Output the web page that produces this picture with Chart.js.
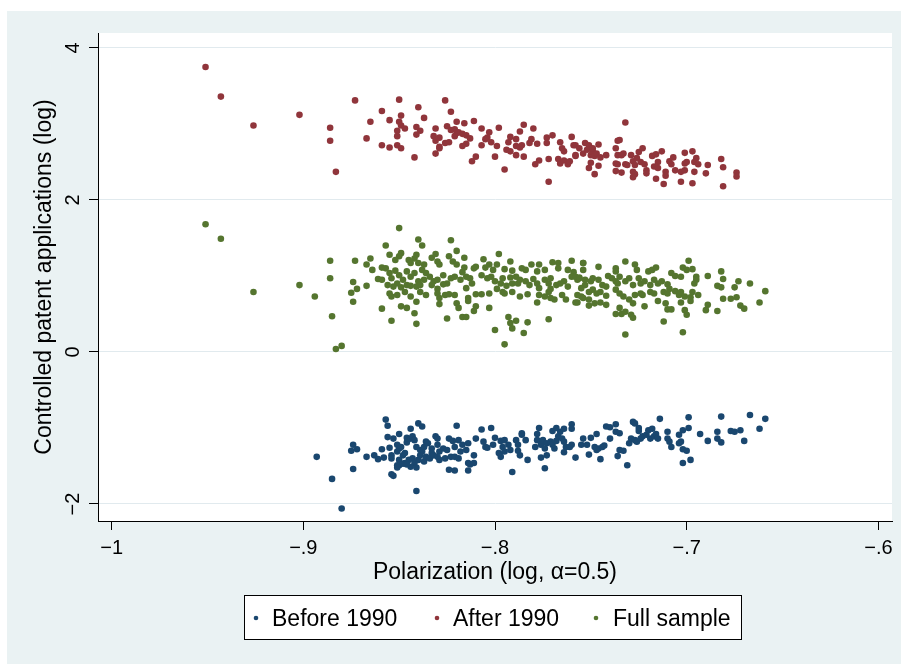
<!DOCTYPE html>
<html>
<head>
<meta charset="utf-8">
<script src="https://cdn.jsdelivr.net/npm/chart.js@4/dist/chart.umd.min.js"></script>
<style>
  body { margin: 0; background: #fff; }
  #wrap { position: relative; width: 901px; height: 664px; }
  canvas { display: block; }
</style>
</head>
<body>
<div id="wrap"><canvas id="chart" width="901" height="664"></canvas></div>
<script>
// axis ticks
const xTicks = [-1, -0.9, -0.8, -0.7, -0.6];
const xTickLabels = ['\u22121', '\u2212.9', '\u2212.8', '\u2212.7', '\u2212.6'];
const yTicks = [-2, 0, 2, 4];
const yTickLabels = ['\u22122', '0', '2', '4'];

const seriesNames = ['Before 1990', 'After 1990', 'Full sample'];

// [polarization, patents]
const before1990 = [
  [-0.893,-1.38],[-0.885,-1.67],[-0.880,-2.06],[-0.874,-1.54],[-0.874,-1.22],[-0.875,-1.30],[-0.872,-1.28],
  [-0.867,-1.38],[-0.863,-1.36],[-0.861,-1.41],[-0.859,-1.28],[-0.858,-1.39],[-0.857,-0.89],[-0.856,-0.97],
  [-0.856,-1.12],[-0.855,-1.26],[-0.854,-1.36],[-0.854,-1.40],[-0.854,-1.61],[-0.853,-1.63],[-0.853,-1.14],
  [-0.850,-1.08],[-0.851,-1.22],[-0.851,-1.31],[-0.850,-1.27],[-0.849,-1.25],[-0.848,-1.36],[-0.847,-1.33],
  [-0.846,-1.19],[-0.844,-1.01],[-0.846,-1.13],[-0.844,-1.14],[-0.843,-1.11],[-0.842,-1.16],[-0.840,-0.94],
  [-0.838,-0.98],[-0.841,-1.25],[-0.839,-1.29],[-0.838,-1.31],[-0.837,-1.25],[-0.836,-1.18],[-0.835,-1.20],
  [-0.833,-1.27],[-0.833,-1.33],[-0.831,-1.11],[-0.830,-1.14],[-0.830,-1.22],[-0.829,-1.31],[-0.827,-1.27],
  [-0.825,-1.29],[-0.824,-1.14],[-0.822,-1.17],[-0.821,-1.25],[-0.820,-0.97],[-0.819,-1.16],[-0.818,-1.31],
  [-0.817,-1.22],[-0.815,-1.29],[-0.814,-1.20],[-0.811,-1.36],[-0.810,-1.14],[-0.807,-1.02],[-0.806,-1.18],
  [-0.805,-1.25],[-0.804,-1.26],[-0.850,-1.42],[-0.847,-1.46],[-0.845,-1.42],[-0.843,-1.40],[-0.842,-1.46],
  [-0.840,-1.42],[-0.839,-1.36],[-0.837,-1.44],[-0.836,-1.38],[-0.834,-1.40],[-0.832,-1.36],[-0.830,-1.38],
  [-0.829,-1.42],[-0.826,-1.40],[-0.823,-1.38],[-0.821,-1.38],[-0.819,-1.40],[-0.851,-1.49],[-0.850,-1.49],
  [-0.848,-1.47],[-0.844,-1.51],[-0.841,-1.52],[-0.846,-1.48],[-0.814,-1.46],[-0.813,-1.48],[-0.811,-1.46],
  [-0.824,-1.55],[-0.821,-1.56],[-0.814,-1.56],[-0.841,-1.83],[-0.851,-1.52],
  [-0.802,-1.00],[-0.800,-1.13],[-0.801,-1.22],[-0.797,-1.17],[-0.796,-1.25],[-0.795,-1.16],[-0.793,-1.22],
  [-0.792,-1.29],[-0.795,-1.31],[-0.797,-1.38],[-0.798,-1.33],[-0.791,-1.58],[-0.789,-1.16],[-0.788,-1.22],
  [-0.786,-1.09],[-0.786,-1.07],[-0.784,-1.16],[-0.788,-1.30],[-0.787,-1.36],[-0.783,-1.42],[-0.779,-1.25],
  [-0.778,-1.08],[-0.777,-1.00],[-0.778,-1.16],[-0.776,-1.22],[-0.775,-1.16],[-0.773,-1.20],[-0.774,-1.27],
  [-0.773,-1.36],[-0.770,-1.04],[-0.771,-1.18],[-0.770,-1.22],[-0.768,-1.17],[-0.769,-1.27],[-0.776,-1.39],
  [-0.774,-1.53],[-0.768,-1.00],[-0.766,-1.05],[-0.767,-1.11],[-0.765,-1.14],[-0.764,-1.18],[-0.764,-1.01],
  [-0.760,-0.95],[-0.760,-1.01],[-0.763,-1.25],[-0.761,-1.25],[-0.760,-1.22],[-0.764,-1.32],[-0.758,-1.39],
  [-0.754,-1.14],[-0.755,-1.22],[-0.752,-1.22],[-0.750,-1.13],[-0.751,-1.35],[-0.748,-1.25],[-0.747,-1.08],
  [-0.746,-1.27],[-0.744,-1.25],[-0.743,-1.23],[-0.747,-1.29],[-0.745,-1.41],[-0.742,-0.98],[-0.740,-0.99],
  [-0.737,-0.95],[-0.740,-1.14],[-0.737,-1.05],[-0.735,-1.07],[-0.735,-1.29],[-0.736,-1.37],[-0.733,-1.30],
  [-0.731,-1.49],[-0.730,-1.20],[-0.729,-1.14],[-0.728,-0.92],
  [-0.727,-0.94],[-0.725,-1.00],[-0.725,-1.04],[-0.727,-1.16],[-0.726,-1.18],[-0.724,-1.14],[-0.723,-1.11],
  [-0.721,-1.09],[-0.720,-1.03],[-0.718,-1.01],[-0.719,-1.14],[-0.717,-1.11],[-0.716,-1.08],[-0.715,-1.14],
  [-0.714,-0.88],[-0.710,-1.05],[-0.710,-1.14],[-0.709,-1.18],[-0.708,-1.25],[-0.704,-1.09],[-0.703,-1.18],
  [-0.704,-1.20],[-0.702,-1.03],[-0.699,-1.00],[-0.699,-0.86],[-0.702,-1.28],[-0.700,-1.30],[-0.702,-1.46],
  [-0.698,-1.42],[-0.693,-1.08],[-0.689,-1.17],[-0.684,-1.14],[-0.684,-1.05],[-0.682,-0.85],[-0.682,-1.19],
  [-0.677,-1.04],[-0.675,-1.05],[-0.672,-1.03],[-0.670,-1.17],[-0.667,-0.83],[-0.662,-1.01],[-0.659,-0.88]
];

const after1990 = [
  [-0.951,3.75],[-0.943,3.36],[-0.926,2.98],[-0.902,3.12],[-0.886,2.95],[-0.886,2.78],[-0.883,2.37],
  [-0.873,3.31],[-0.865,3.03],[-0.859,3.17],[-0.867,2.81],[-0.859,2.72],
  [-0.850,3.32],[-0.855,3.05],[-0.855,2.69],[-0.849,3.11],[-0.850,3.03],[-0.849,2.98],[-0.851,2.91],
  [-0.851,2.84],[-0.847,2.94],[-0.851,2.72],[-0.849,2.68],[-0.842,2.56],[-0.840,3.22],[-0.837,3.08],
  [-0.841,2.96],[-0.839,2.91],[-0.841,2.86],[-0.826,3.31],[-0.823,3.16],[-0.831,2.94],[-0.832,2.84],
  [-0.829,2.82],[-0.831,2.78],[-0.829,2.70],[-0.829,2.68],[-0.831,2.61],[-0.826,2.75],[-0.824,2.76],
  [-0.825,2.97],[-0.823,2.92],[-0.821,2.93],[-0.820,3.03],[-0.816,3.01],[-0.820,2.88],[-0.821,2.84],
  [-0.819,2.89],[-0.817,2.87],[-0.815,2.85],[-0.813,2.81],[-0.815,2.74],[-0.817,2.71],[-0.811,3.04],
  [-0.807,2.94],[-0.803,2.89],[-0.804,2.82],[-0.805,2.80],[-0.807,2.72],[-0.802,2.76],[-0.810,2.57],
  [-0.812,2.51],[-0.800,2.57],[-0.798,2.95],[-0.799,2.71],[-0.795,2.40],[-0.785,2.99],[-0.780,2.94],
  [-0.787,2.90],[-0.792,2.83],[-0.789,2.80],[-0.793,2.76],[-0.794,2.66],[-0.792,2.64],[-0.789,2.71],
  [-0.787,2.69],[-0.786,2.72],[-0.789,2.59],[-0.785,2.57],[-0.781,2.80],[-0.782,2.75],[-0.778,2.74],
  [-0.773,2.82],[-0.773,2.75],[-0.770,2.85],[-0.772,2.54],[-0.777,2.52],[-0.779,2.47],[-0.766,2.76],
  [-0.765,2.68],[-0.764,2.64],[-0.760,2.83],[-0.759,2.72],[-0.758,2.58],[-0.767,2.54],[-0.766,2.48],
  [-0.764,2.52],[-0.762,2.47],[-0.761,2.51],[-0.772,2.24],
  [-0.758,2.72],[-0.756,2.68],[-0.758,2.59],[-0.753,2.75],[-0.754,2.61],[-0.751,2.72],[-0.752,2.66],
  [-0.750,2.59],[-0.749,2.64],[-0.749,2.68],[-0.748,2.58],[-0.750,2.49],[-0.751,2.42],[-0.747,2.61],
  [-0.746,2.73],[-0.745,2.56],[-0.748,2.34],[-0.742,2.59],[-0.746,2.45],[-0.736,2.78],[-0.735,2.79],
  [-0.732,3.02],[-0.737,2.68],[-0.736,2.59],[-0.737,2.48],[-0.736,2.47],[-0.734,2.59],[-0.733,2.61],
  [-0.732,2.47],[-0.737,2.38],[-0.734,2.36],[-0.731,2.46],[-0.729,2.59],[-0.728,2.51],[-0.727,2.46],
  [-0.725,2.63],[-0.723,2.68],[-0.726,2.55],[-0.724,2.50],[-0.722,2.47],[-0.728,2.37],[-0.727,2.34],
  [-0.728,2.30],[-0.721,2.39],[-0.721,2.35],[-0.718,2.58],[-0.716,2.60],[-0.717,2.44],[-0.715,2.50],
  [-0.715,2.42],[-0.713,2.64],[-0.711,2.37],[-0.711,2.32],[-0.716,2.28],[-0.712,2.21],[-0.709,2.51],
  [-0.708,2.47],[-0.707,2.56],[-0.706,2.39],[-0.703,2.37],[-0.701,2.62],[-0.701,2.48],[-0.700,2.50],
  [-0.701,2.39],[-0.697,2.64],[-0.695,2.55],[-0.696,2.50],[-0.694,2.47],[-0.696,2.37],[-0.703,2.24],
  [-0.697,2.22],[-0.689,2.46],[-0.690,2.35],[-0.682,2.54],[-0.681,2.43],[-0.681,2.18],[-0.674,2.36],
  [-0.674,2.31]
];

const fullSample = [
  [-0.951,1.68],[-0.943,1.49],[-0.926,0.79],[-0.902,0.88],[-0.894,0.73],[-0.886,1.20],[-0.886,0.97],
  [-0.885,0.47],[-0.883,0.04],[-0.880,0.08],[-0.873,1.20],[-0.874,0.92],[-0.875,0.78],[-0.874,0.66],
  [-0.872,0.83],[-0.867,0.87],[-0.865,1.23],[-0.867,1.15],[-0.864,1.08],[-0.859,0.57],[-0.861,0.96],
  [-0.859,0.95],[-0.859,1.11],
  [-0.850,1.63],[-0.840,1.48],[-0.838,1.40],[-0.823,1.47],[-0.857,1.40],[-0.820,1.33],[-0.798,1.29],
  [-0.816,1.24],[-0.806,1.22],[-0.792,1.19],[-0.781,1.15],[-0.777,1.15],[-0.770,1.18],[-0.767,1.17],
  [-0.760,1.20],[-0.754,1.17],[-0.754,1.08],
  [-0.855,1.28],[-0.849,1.30],[-0.850,1.26],[-0.852,1.21],[-0.845,1.21],[-0.842,1.23],[-0.841,1.28],
  [-0.844,1.17],[-0.840,1.17],[-0.837,1.15],[-0.833,1.24],[-0.831,1.29],[-0.830,1.19],[-0.829,1.15],
  [-0.824,1.26],[-0.822,1.19],[-0.820,1.15],[-0.816,1.11],[-0.811,1.10],[-0.810,1.12],[-0.805,1.11],
  [-0.803,1.15],[-0.801,1.08],[-0.799,1.15],[-0.795,1.09],[-0.791,1.07],[-0.786,1.10],[-0.784,1.08],
  [-0.778,1.06],[-0.774,1.08],[-0.767,1.10],[-0.762,1.08],[-0.759,1.05],
  [-0.857,1.10],[-0.855,1.04],[-0.852,1.07],[-0.854,0.97],[-0.850,1.01],[-0.848,0.95],[-0.846,1.06],
  [-0.844,0.99],[-0.842,1.04],[-0.840,0.93],[-0.838,1.08],[-0.836,1.04],[-0.837,0.95],[-0.834,0.99],
  [-0.832,0.93],[-0.830,0.95],[-0.827,1.01],[-0.825,0.90],[-0.823,0.97],[-0.821,0.99],[-0.818,0.95],
  [-0.815,0.99],[-0.813,0.97],[-0.812,0.90],[-0.815,0.84],[-0.817,1.05],[-0.807,1.01],[-0.804,0.97],
  [-0.802,0.99],[-0.800,0.93],[-0.797,0.90],[-0.796,0.97],[-0.794,0.87],[-0.791,0.90],[-0.792,0.98],
  [-0.789,0.99],[-0.788,0.90],[-0.787,0.95],[-0.784,0.93],[-0.782,0.88],[-0.780,0.96],[-0.778,0.90],
  [-0.777,0.84],[-0.774,0.95],[-0.772,0.90],[-0.771,0.97],[-0.768,0.88],[-0.766,0.90],[-0.764,0.93],
  [-0.762,0.86],[-0.760,0.99],[-0.756,0.97],[-0.753,0.88],[-0.757,0.95],[-0.856,0.88],[-0.853,0.86],
  [-0.851,0.90],[-0.849,0.85],[-0.846,0.88],[-0.844,0.87],[-0.841,0.86],[-0.839,0.88],[-0.833,0.88],
  [-0.830,0.83],[-0.827,0.89],
  [-0.855,0.77],[-0.854,0.73],[-0.851,0.75],[-0.847,0.79],[-0.844,0.73],[-0.839,0.79],[-0.836,0.75],
  [-0.830,0.77],[-0.829,0.71],[-0.826,0.75],[-0.824,0.76],[-0.821,0.75],[-0.814,0.71],[-0.810,0.76],
  [-0.807,0.76],[-0.803,0.77],[-0.796,0.79],[-0.791,0.79],[-0.787,0.73],[-0.783,0.76],[-0.778,0.65],
  [-0.777,0.75],[-0.774,0.73],[-0.769,0.69],[-0.765,0.75],[-0.763,0.69],[-0.757,0.65],[-0.755,0.73],
  [-0.849,0.60],[-0.846,0.58],[-0.841,0.66],[-0.842,0.51],[-0.829,0.63],[-0.820,0.64],[-0.819,0.58],
  [-0.814,0.67],[-0.810,0.60],[-0.803,0.58],[-0.799,0.83],[-0.795,0.77],[-0.772,0.79],[-0.771,0.83],
  [-0.771,0.71],
  [-0.854,0.41],[-0.841,0.37],[-0.825,0.44],[-0.817,0.46],[-0.815,0.46],[-0.811,0.54],[-0.800,0.29],
  [-0.793,0.46],[-0.791,0.31],[-0.789,0.41],[-0.792,0.38],[-0.785,0.25],[-0.783,0.39],[-0.772,0.43],
  [-0.795,0.10],
  [-0.754,1.17],[-0.746,1.12],[-0.732,1.19],[-0.727,1.15],[-0.726,1.08],[-0.737,1.10],[-0.737,1.06],
  [-0.720,1.06],[-0.718,1.08],[-0.716,1.11],[-0.699,1.20],[-0.702,1.11],[-0.700,1.08],[-0.697,1.09],
  [-0.708,1.04],[-0.706,1.00],[-0.703,0.99],[-0.695,0.99],[-0.695,0.95],[-0.696,0.90],[-0.689,1.00],
  [-0.682,1.06],[-0.681,0.96],[-0.684,0.87],[-0.682,0.85],[-0.673,0.93],[-0.675,0.85],[-0.667,0.90],
  [-0.659,0.80],[-0.662,0.65],[-0.758,0.99],[-0.756,0.98],[-0.753,0.95],[-0.750,0.93],[-0.749,0.97],
  [-0.746,0.95],[-0.744,0.88],[-0.741,1.00],[-0.739,0.97],[-0.742,0.86],[-0.737,0.93],[-0.736,0.90],
  [-0.735,0.99],[-0.732,0.93],[-0.730,0.97],[-0.728,0.88],[-0.725,0.97],[-0.724,0.90],[-0.722,0.93],
  [-0.719,0.88],[-0.717,0.95],[-0.715,0.90],[-0.713,0.93],[-0.710,0.89],[-0.755,0.84],[-0.751,0.79],
  [-0.749,0.82],[-0.747,0.77],[-0.745,0.79],[-0.757,0.75],[-0.754,0.71],[-0.751,0.69],[-0.748,0.64],
  [-0.745,0.65],[-0.742,0.74],[-0.742,0.62],[-0.737,0.82],[-0.735,0.77],[-0.733,0.73],[-0.730,0.69],
  [-0.728,0.64],[-0.727,0.75],[-0.724,0.77],[-0.723,0.75],[-0.719,0.79],[-0.717,0.77],[-0.715,0.67],
  [-0.712,0.79],[-0.710,0.77],[-0.709,0.83],[-0.706,0.80],[-0.704,0.75],[-0.703,0.79],[-0.701,0.73],
  [-0.698,0.72],[-0.697,0.79],[-0.694,0.75],[-0.698,0.67],[-0.703,0.65],[-0.711,0.64],[-0.710,0.56],
  [-0.708,0.56],[-0.701,0.55],[-0.700,0.49],[-0.690,0.55],[-0.689,0.62],[-0.684,0.54],[-0.681,0.70],
  [-0.677,0.70],[-0.674,0.72],[-0.672,0.61],[-0.670,0.57],[-0.722,0.60],[-0.735,0.58],[-0.737,0.50],
  [-0.734,0.50],[-0.732,0.53],[-0.729,0.49],[-0.728,0.45],[-0.712,0.40],[-0.732,0.23],[-0.702,0.26],
  [-0.758,0.65],[-0.751,0.61]
];

const colors = ['#1a476f', '#90353b', '#55752f'];
const font = "'Liberation Sans', Arial, sans-serif";
Chart.defaults.font.family = font;
Chart.defaults.color = '#000';

const toPts = arr => arr.map(p => ({ x: p[0], y: p[1] }));

// backgrounds, rotated y labels and the boxed legend
const stataLook = {
  id: 'stataLook',
  beforeDraw(chart) {
    const { ctx, chartArea: a } = chart;
    ctx.save();
    ctx.fillStyle = '#eaf2f3';
    ctx.fillRect(7, 11, chart.width - 7, chart.height - 11);
    ctx.fillStyle = '#fff';
    ctx.fillRect(a.left, a.top, a.right - a.left, a.bottom - a.top);
    ctx.restore();
  },
  afterDraw(chart) {
    const { ctx } = chart;
    const ys = chart.scales.y;
    ctx.save();
    ctx.fillStyle = '#000';
    ctx.font = '20px ' + font;
    ctx.textAlign = 'center';
    ctx.textBaseline = 'alphabetic';
    yTicks.forEach((v, i) => {
      ctx.save();
      ctx.translate(79, ys.getPixelForValue(v));
      ctx.rotate(-Math.PI / 2);
      ctx.fillText(yTickLabels[i], 0, 0);
      ctx.restore();
    });

    // legend box
    ctx.fillStyle = '#fff';
    ctx.fillRect(244, 595, 498, 45);
    ctx.strokeStyle = '#000';
    ctx.lineWidth = 1;
    ctx.strokeRect(244.5, 595.5, 497, 44);
    const dotX = [256, 437, 596];
    const textX = [272, 453, 613];
    ctx.font = '23px ' + font;
    ctx.textAlign = 'left';
    seriesNames.forEach((name, i) => {
      ctx.fillStyle = colors[i];
      ctx.beginPath();
      ctx.arc(dotX[i], 618, 2.3, 0, Math.PI * 2);
      ctx.fill();
      ctx.fillStyle = '#000';
      ctx.fillText(name, textX[i], 626);
    });
    ctx.restore();
  }
};

new Chart(document.getElementById('chart'), {
  type: 'scatter',
  data: {
    datasets: [before1990, after1990, fullSample].map((d, i) => ({
      label: seriesNames[i],
      data: toPts(d),
      backgroundColor: colors[i],
      borderWidth: 0,
      pointRadius: 3.3,
      pointHoverRadius: 3.3
    }))
  },
  options: {
    responsive: false,
    animation: false,
    events: [],
    layout: { padding: { left: 0, top: 33, right: 9, bottom: 0 } },
    plugins: { legend: { display: false }, tooltip: { enabled: false } },
    scales: {
      x: {
        type: 'linear',
        min: -1.0071,
        max: -0.5929,
        afterBuildTicks: s => { s.ticks = xTicks.map(v => ({ value: v })); },
        afterFit: s => { s.height = 143; },
        ticks: {
          autoSkip: false,
          maxRotation: 0,
          padding: 6,
          font: { size: 20 },
          color: '#000',
          callback: (v, i) => xTickLabels[i]
        },
        grid: { drawOnChartArea: false, color: 'rgba(0,0,0,0)', tickColor: '#000', tickLength: 9 },
        border: { color: '#000', width: 1 },
        title: {
          display: true,
          text: 'Polarization (log, \u03b1=0.5)',
          font: { size: 23 },
          color: '#000',
          padding: { top: 0, bottom: 78 }
        }
      },
      y: {
        min: -2.224,
        max: 4.197,
        afterBuildTicks: s => { s.ticks = yTicks.map(v => ({ value: v })); },
        afterFit: s => { s.width = 98; },
        ticks: { display: false },
        grid: { color: '#e1eaee', tickColor: '#000', tickLength: 9 },
        border: { color: '#000', width: 1 },
        title: {
          display: true,
          text: 'Controlled patent applications (log)',
          font: { size: 23 },
          color: '#000',
          padding: { top: 31, bottom: 0 }
        }
      }
    }
  },
  plugins: [stataLook]
});
</script>
</body>
</html>
